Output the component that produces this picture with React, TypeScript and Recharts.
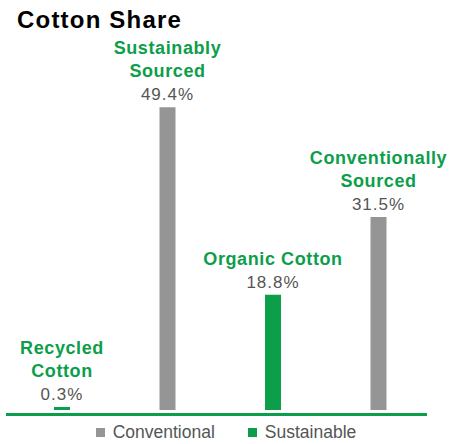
import React from 'react';
import { BarChart, Bar, XAxis, YAxis, Cell, Legend, LabelList, ReferenceLine } from 'recharts';

const categories = ['Recycled Cotton', 'Sustainably Sourced', 'Organic Cotton', 'Conventionally Sourced'];
const labelLines = [['Recycled', 'Cotton'], ['Sustainably', 'Sourced'], ['Organic Cotton'], ['Conventionally', 'Sourced']];
const values = [0.3, 49.4, 18.8, 31.5];
const groups = ['Sustainable', 'Conventional', 'Sustainable', 'Conventional'];
const legendNames = ['Conventional', 'Sustainable'];

const GREEN = '#0c9e4a';
const GRAY = '#959595';
const colorOf: Record<string, string> = { Conventional: GRAY, Sustainable: GREEN };

const W = 454;
const H = 444;
const FONT = '"Liberation Sans", Arial, Helvetica, sans-serif';

const data = categories.map((name, i) => ({ name, value: values[i], group: groups[i] }));

// label above each bar: green name lines + grey percentage
const BarLabel = (props: any) => {
  const { value, index } = props;
  const vb = props.viewBox || props;
  const x = vb.x ?? props.x;
  const y = vb.y ?? props.y;
  const width = vb.width ?? props.width;
  if (value == null || x == null) return null;
  const cx = Math.min(x + width / 2, W - 69);
  const base = y - 7;
  const lines = labelLines[index] || [];
  return (
    <g>
      {lines.map((line, k) => (
        <text
          key={k}
          x={cx}
          y={base - 23 * (lines.length - k)}
          textAnchor="middle"
          fill={GREEN}
          fontFamily={FONT}
          fontSize={18}
          fontWeight="bold"
          letterSpacing={0.6}
        >
          {line}
        </text>
      ))}
      <text x={cx} y={base} textAnchor="middle" fill="#555" fontFamily={FONT} fontSize={17} letterSpacing={1}>
        {value}%
      </text>
    </g>
  );
};

const LegendContent = () => (
  <div style={{ height: 34, position: 'relative', overflow: 'visible' }}>
    <div
      style={{
        position: 'absolute',
        left: 0,
        right: 0,
        top: 12,
        display: 'flex',
        justifyContent: 'center',
        alignItems: 'center',
        lineHeight: '20px',
        fontFamily: FONT,
        fontSize: 17.5,
        color: '#555',
        transform: 'translateX(6px)',
      }}
    >
      {legendNames.map((n, i) => (
        <span key={n} style={{ display: 'flex', alignItems: 'center', marginLeft: i ? 33 : 0 }}>
          <span style={{ width: 9, height: 9, background: colorOf[n], marginRight: 8, display: 'inline-block' }} />
          {n}
        </span>
      ))}
    </div>
  </div>
);

const App = () => (
  <div style={{ position: 'absolute', left: 0, top: 0, width: W, height: H, background: '#fff' }}>
    <BarChart width={W} height={H} data={data} margin={{ top: 73, right: 23, bottom: 0, left: 9 }}>
      <XAxis dataKey="name" hide />
      <YAxis domain={[0, 55]} hide />
      <ReferenceLine
        y={0}
        shape={(p: any) => (
          <line x1={p.x1 - 3} x2={p.x2 - 4} y1={p.y1 + 4.5} y2={p.y2 + 4.5} stroke={GREEN} strokeWidth={3} />
        )}
      />
      <Bar dataKey="value" barSize={16} minPointSize={3} isAnimationActive={false}>
        {data.map((d) => (
          <Cell key={d.name} fill={colorOf[d.group]} />
        ))}
        <LabelList dataKey="value" content={BarLabel} />
      </Bar>
      <Legend verticalAlign="bottom" content={() => <LegendContent />} />
    </BarChart>
    <div
      style={{
        position: 'absolute',
        left: 17,
        top: 8,
        fontFamily: FONT,
        fontSize: 24,
        lineHeight: '24px',
        fontWeight: 'bold',
        letterSpacing: 1.2,
        color: '#000',
      }}
    >
      Cotton Share
    </div>
  </div>
);

export default App;
